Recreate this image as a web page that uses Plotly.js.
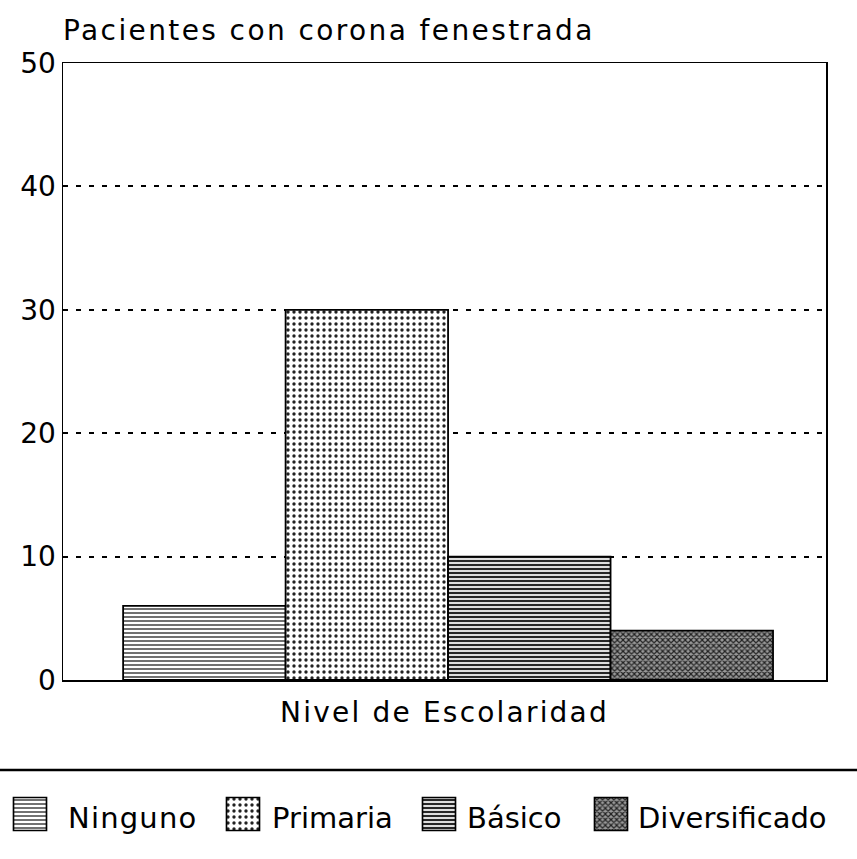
<!DOCTYPE html>
<html><head><meta charset="utf-8">
<script src="https://cdn.plot.ly/plotly-3.0.1.min.js"></script>
<style>
body{margin:0;background:#fff}#c{width:857px;height:859px}
.gtitle{letter-spacing:2.4px}
.xtitle{letter-spacing:2.2px}
</style>
</head><body><div id="c"></div>
<script>
const categories = ["Ninguno", "Primaria", "Básico", "Diversificado"];
const values = [6, 30, 10, 4];
const yTicks = [0, 10, 20, 30, 40, 50];
const patterns = [
  {shape: "-", size: 4, solidity: 0.35, fgcolor: "#333", bgcolor: "#fff"},
  {shape: ".", size: 6, solidity: 0.25, fgcolor: "#222", bgcolor: "#fff"},
  {shape: "-", size: 4, solidity: 0.45, fgcolor: "#111", bgcolor: "#ddd"},
  {shape: "x", size: 4, solidity: 0.5, fgcolor: "#222", bgcolor: "#999"}
];
// legend layout (pixels)
const legendTextX = [68, 272, 467, 638];
const legendSymX = [30, 243, 439, 611];
const legendY = 817;
const SYM_SCALE = 2.75;
const font = "DejaVu Sans, Verdana, sans-serif";
const PX0 = 63, PW = 763, PB = 680, PH = 617;
const legNames = ["legend", "legend2", "legend3", "legend4"];
const traces = categories.map((c, i) => ({
  type: "bar", name: c, x: [i], y: [values[i]], width: 1,
  legend: legNames[i],
  marker: {color: "#fff", pattern: patterns[i], line: {color: "#000", width: 1.8}},
  hoverinfo: "skip"
}));
const layout = {
  width: 857, height: 859,
  margin: {l: PX0, r: 857 - PX0 - PW, t: PB - PH, b: 859 - PB, autoexpand: false},
  paper_bgcolor: "#fff", plot_bgcolor: "#fff",
  font: {family: font, size: 25, color: "#000"},
  title: {text: "Pacientes con corona fenestrada", x: 63/857, xanchor: "left", y: 1 - 30/859, yanchor: "middle", font: {size: 28}},
  barmode: "overlay", showlegend: true,
  xaxis: {range: [-0.87, 3.826], showticklabels: false, ticks: "", showgrid: false, zeroline: false,
    showline: true, linecolor: "#000", linewidth: 1.5, mirror: true, automargin: false,
    title: {text: "Nivel de Escolaridad", standoff: 22, font: {size: 28}}},
  yaxis: {range: [0, 50], tickvals: yTicks, ticktext: yTicks.map(String), ticks: "", automargin: false,
    showgrid: true, gridcolor: "#000", griddash: "5px,8px", gridwidth: 2, zeroline: false,
    showline: true, linecolor: "#000", linewidth: 1.5, mirror: true, tickfont: {size: 28}},
  shapes: [{type: "line", xref: "paper", yref: "paper", x0: -PX0/PW, x1: (857-PX0)/PW, y0: (PB-770)/PH, y1: (PB-770)/PH,
    line: {color: "#000", width: 2.5}}]
};
legNames.forEach((n, i) => {
  layout[n] = {orientation: "h", x: (legendTextX[i] - 40 - PX0)/PW, xanchor: "left",
    y: (PB - legendY)/PH, yanchor: "middle", font: {size: 29}, bgcolor: "rgba(0,0,0,0)", borderwidth: 0};
});
Plotly.newPlot("c", traces, layout, {displayModeBar: false, staticPlot: true}).then(gd => {
  const host = gd.getBoundingClientRect();
  legNames.forEach((n, i) => {
    const lg = gd.querySelector("g." + n);
    if (!lg) return;
    lg.querySelectorAll("[clip-path]").forEach(e => e.removeAttribute("clip-path"));
    lg.querySelectorAll(".legendtext").forEach(t => t.setAttribute("letter-spacing", "1.2"));
    lg.querySelectorAll(".legendpoints path").forEach(p => {
      const r = p.getBoundingClientRect();
      const cx = r.left + r.width/2 - host.left;
      const cy = r.top + r.height/2 - host.top;
      const t = p.getAttribute("transform") || "";
      p.setAttribute("transform", t + ` translate(${legendSymX[i] - cx},${legendY - 3 - cy}) scale(${SYM_SCALE})`);
      p.style.strokeWidth = "0.6px";
      const fillStr = (p.getAttribute("style") || "") + " " + (p.getAttribute("fill") || "");
      const m = fillStr.match(/url\(\s*['"]?[^#'")]*#([^'")\s]+)['"]?\s*\)/);
      if (m) {
        const pat = document.getElementById(m[1]);
        if (pat) {
          const clone = pat.cloneNode(true);
          const nid = m[1] + "-legsmall";
          clone.id = nid;
          clone.setAttribute("patternTransform", `scale(${1/SYM_SCALE})`);
          pat.parentNode.appendChild(clone);
          p.style.fill = `url(#${nid})`;
        }
      }
    });
  });
});
</script></body></html>
